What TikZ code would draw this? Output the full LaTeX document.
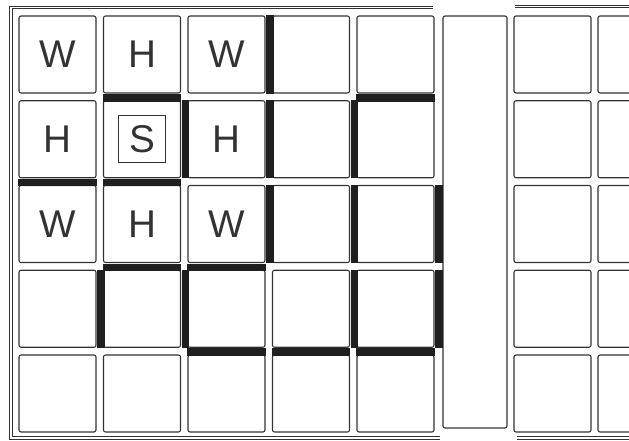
\documentclass[tikz,border=0pt]{standalone}
\usepackage{fontspec}
\setmainfont{Liberation Sans}
\usetikzlibrary{calc}

\begin{document}
\begin{tikzpicture}[
  x=0.75pt, y=-0.75pt,
  every node/.style={font=\fontsize{29}{29}\selectfont, text=black!80},
  cell/.style ={rectangle, draw=black!80, line width=0.8pt, rounded corners=1.5pt,
                minimum size=57.75pt, inner sep=0pt},
  sbox/.style ={rectangle, draw=black!80, line width=0.7pt, minimum size=35pt,
                inner sep=0pt},
  wall/.style ={line width=5.6pt, black!88},
  frame/.style={double, double distance=1.1pt, line width=0.7pt, draw=black!80},
]
\useasboundingbox (0,0) rectangle (629,441);
\clip (0,0) rectangle (629,441);

% left block, 5 x 5 rooms
\foreach \c in {1,...,5}
  \foreach \r in {1,...,5}
    \node[cell] (c\c\r) at ({57.5+(\c-1)*84.5}, {54.5+(\r-1)*84.75}) {};
% right block, cut off at the edge
\foreach \c in {6,7}
  \foreach \r in {1,...,5}
    \node[cell] (c\c\r) at ({552.5+(\c-6)*84}, {54.5+(\r-1)*84.75}) {};
\node[cell, minimum width=48pt, minimum height=309pt] (strip) at (475, 222) {};

% letters
\foreach \c/\r/\t in {1/1/W, 2/1/H, 3/1/W, 1/2/H, 3/2/H, 1/3/W, 2/3/H, 3/3/W}
  \node (t\c\r) at (c\c\r) {\t};
\node[sbox] (s22) at (c22) {S};

% walls: right side of a room
\foreach \c/\r in {3/1, 2/2, 3/2, 4/2, 3/3, 4/3, 5/3, 1/4, 2/4, 4/4, 5/4}
  \draw[wall] ([xshift=3.2pt]c\c\r.north east) -- ([xshift=3.2pt]c\c\r.south east);
% walls: bottom side of a room
\foreach \c/\r in {2/1, 5/1, 1/2, 2/2, 2/3, 3/3, 3/4, 4/4, 5/4}
  \draw[wall] ([yshift=-3.2pt]c\c\r.south west) -- ([yshift=-3.2pt]c\c\r.south east);

% outer frame
\draw[frame] (433,7.5) -- (11,7.5) -- (11,438) -- (440,438);
\draw[frame] (515,6.5) -- (629,6.5);
\draw[frame] (517,438) -- (629,438);
\end{tikzpicture}
\end{document}
